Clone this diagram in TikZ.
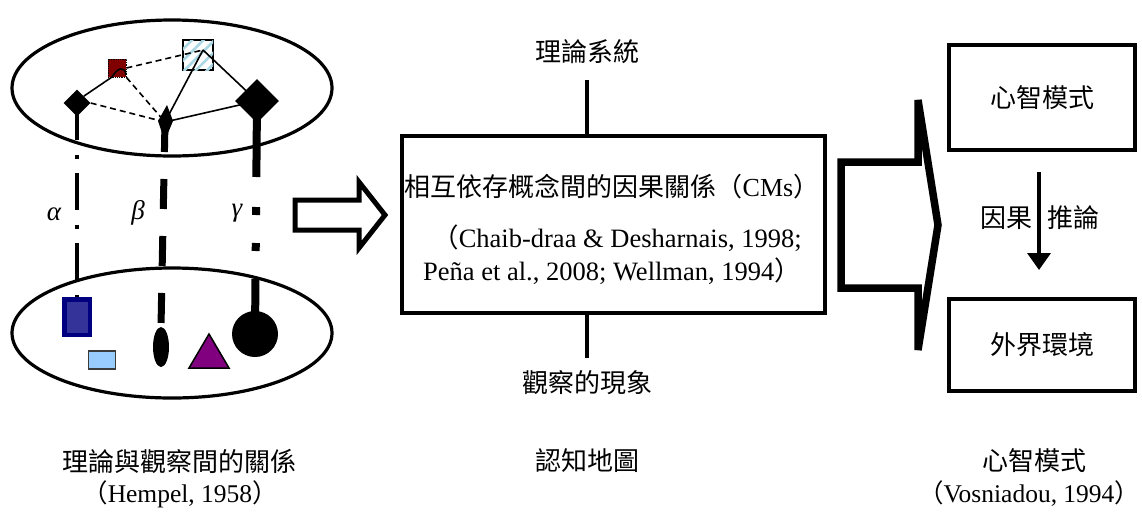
\documentclass[tikz,border=0pt]{standalone}
\usepackage{fontspec}
\setmainfont{Liberation Serif}
\newfontfamily\cjk{Noto Sans CJK TC}
\usetikzlibrary{arrows.meta,patterns.meta,shapes.geometric,calc}
\definecolor{cRed}{RGB}{128,0,0}
\definecolor{cNavy}{RGB}{0,0,128}
\definecolor{cBlue}{RGB}{51,51,153}
\definecolor{cLblue}{RGB}{153,204,255}
\definecolor{cPurple}{RGB}{128,0,128}
\definecolor{cHatch}{RGB}{170,215,228}
\definecolor{cGray}{RGB}{60,60,60}
\newcommand{\lpar}{{\cjk\kern-0.45em （}}
\newcommand{\rpar}{{\cjk ）\kern-0.45em}}
\begin{document}
\begin{tikzpicture}[x=1pt,y=-1pt,
  ell/.style={draw,line width=3.2pt},
  thinln/.style={line width=1.6pt},
  dsh/.style={line width=1.6pt,dash pattern=on 6pt off 4pt},
  cj/.style={font=\fontsize{26}{30}\selectfont\cjk, inner sep=0pt},
  lat/.style={font=\fontsize{26.5}{30}\selectfont, inner sep=0pt},
  capl/.style={font=\fontsize{25.5}{30}\selectfont, inner sep=0pt},
  gk/.style={font=\fontsize{27}{32}\selectfont\itshape, inner sep=0pt},
  boxx/.style={draw,line width=4pt,inner sep=0pt},
  vline/.style={line width=4pt},
  hollow/.style={draw,line join=miter},
]
\useasboundingbox (0,0) rectangle (1142,515);

% ---------- left part ----------
\draw[ell] (172,88) ellipse [x radius=160pt, y radius=68pt];
\draw[ell] (172,333) ellipse [x radius=160pt, y radius=65pt];

% top shapes (background ones)
\node[draw, line width=1.5pt, minimum size=30pt, inner sep=0pt, fill=white,
  postaction={pattern={Lines[angle=45,distance=8pt,line width=2.6pt]}, pattern color=cHatch}] (bsq) at (198,55) {};
\node[fill=cRed, draw=black, densely dotted, line width=0.8pt, minimum size=18pt, inner sep=0pt] (rs) at (117,68) {};
\coordinate (bq) at (203,50);
\coordinate (kt) at (165,122);

% bottom shapes
\node[draw=cNavy, fill=cBlue, line width=4.5pt, minimum width=25.5pt, minimum height=35.5pt, inner sep=0pt] (brect) at (77,317) {};
\node[draw=cGray, fill=cLblue, line width=1.5pt, minimum width=27pt, minimum height=18pt, inner sep=0pt] (srect) at (102,360) {};
\node[ellipse, fill, minimum width=16pt, minimum height=40pt, inner sep=0pt] (oval) at (161,347) {};
\node[circle, fill, minimum size=46pt, inner sep=0pt] (circ) at (255,334) {};
\draw[fill=cPurple, line width=1.5pt, line join=miter] (209,334) -- (229,368) -- (189,368) -- cycle;

% top diamonds
\node[diamond, fill, inner sep=0pt, minimum size=27pt] (sd) at (77,103) {};
\node[diamond, fill, inner sep=0pt, minimum size=44pt] (bd) at (257,101) {};

% connectors inside the top ellipse
\draw[thinln] (sd.north east) -- ($(rs)+(-5,9)$) .. controls ($(rs)+(1,-1)$) and ($(rs)+(8,-2)$) .. ($(rs)+(9,7)$);
\draw[dsh] (rs.east) -- (bq);
\draw[dsh] (sd.east) -- (kt);
\draw[dsh] (rs.south east) -- (kt);
\draw[thinln] (kt) -- (bq);
\draw[thinln] (bq) -- (bd.center);
\draw[thinln] (kt) -- (bd.center);

% vertical links
\draw[line width=4pt, dash pattern=on 37pt off 15pt on 4pt off 14pt] (sd.center) -- (brect.north);
\draw[line width=7pt, dash pattern=on 30pt off 27pt] (kt) -- (oval.north);
\draw[line width=8pt, dash pattern=on 76pt off 30pt on 8pt off 28pt on 8pt off 28pt on 60pt] (bd.center) -- (circ.center);

% kite
\fill (167,105) -- (173,121) -- (168,133) -- (162,133) -- (158,121) -- cycle;

\node[gk] (la) at (54,214) {α};
\node[gk] (lb) at (138,213) {β};
\node[gk] (lg) at (237,213) {γ};

% ---------- hollow arrows ----------
\draw[hollow, line width=5pt] (295,200) -- (359,200) -- (359,182) -- (385,215) -- (359,248) -- (359,230) -- (295,230) -- cycle;
\draw[hollow, line width=7.5pt] (841,162) -- (918,162) -- (918,100) -- (938,225) -- (918,350) -- (918,288) -- (841,288) -- cycle;

% ---------- centre ----------
\node[boxx, minimum width=423pt, minimum height=177pt] (cm) at (613.5,224.5) {};
\node[cj] (t1) at (612,187) {相互依存概念間的因果關係（\fontspec{Liberation Serif}CMs\cjk）};
\node[lat] (t2) at (617,238) {{\cjk （}Chaib-draa \& Desharnais, 1998;};
\node[lat] (t3) at (612,271) {Peña et al., 2008; Wellman, 1994{\cjk ）}};
\node[cj] (th) at (587,52) {理論系統};
\node[cj] (ob) at (587,383) {觀察的現象};
\coordinate (thl) at (587,80);
\coordinate (obl) at (587,358);
\draw[vline] (thl) -- (thl |- cm.north);
\draw[vline] (obl |- cm.south) -- (obl);

% ---------- right ----------
\node[boxx, minimum width=186pt, minimum height=105pt] (mm) at (1042,97.5) {};
\node[cj] at (mm.center) {心智模式};
\node[boxx, minimum width=186pt, minimum height=92pt] (env) at (1042,345) {};
\node[cj] at (env.center) {外界環境};
\coordinate (a1) at (1039,172);
\coordinate (a2) at (1039,270);
\draw[line width=3.5pt, -{Triangle[length=17pt,width=23pt]}] (a1) -- (a2);
\node[cj, anchor=east] (c1) at (1033,218) {因果};
\node[cj, anchor=west] (c2) at (1047,218) {推論};

% ---------- captions ----------
\node[cj] (cap1) at (179,461) {理論與觀察間的關係};
\node[capl] (cap1b) at (180,494) {\lpar Hempel, 1958\rpar};
\node[cj] (cap2) at (587,461) {認知地圖};
\node[cj] (cap3) at (1034,461) {心智模式};
\node[capl] (cap3b) at (1029,494) {\lpar Vosniadou, 1994\rpar};
\end{tikzpicture}
\end{document}
